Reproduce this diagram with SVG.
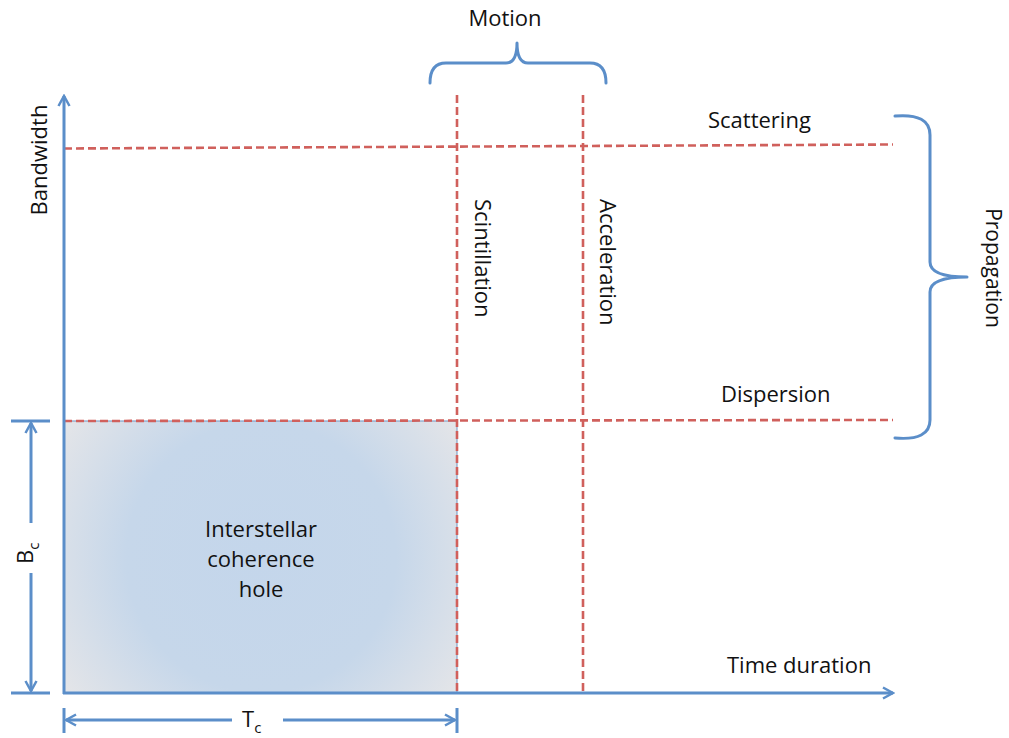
<svg xmlns="http://www.w3.org/2000/svg" width="1009" height="738" viewBox="0 0 1009 738">
<style>
  .t { font-family: "Open Sans", "Liberation Sans", sans-serif; font-size: 22px; fill: #111; }
  .ax { stroke: #5b8ec9; stroke-width: 3; fill: none; }
  .br { stroke: #5b8ec9; stroke-width: 3; fill: none; stroke-linecap: round; stroke-linejoin: round; }
  .rd { stroke: #d0605c; stroke-width: 2.6; stroke-dasharray: 8 4; fill: none; }
</style>
<defs>
  <marker id="arr" viewBox="0 0 14 14" refX="12" refY="7" markerWidth="14" markerHeight="14" markerUnits="userSpaceOnUse" orient="auto-start-reverse">
    <path d="M2,1.5 L12,7 L2,12.5" fill="none" stroke="#5b8ec9" stroke-width="2.5" stroke-linejoin="miter"/>
  </marker>
  <radialGradient id="hole" gradientUnits="userSpaceOnUse" cx="261" cy="557" r="245">
    <stop offset="0" stop-color="#c4d6eb"/>
    <stop offset="0.55" stop-color="#c6d7ea"/>
    <stop offset="1" stop-color="#e6e6e8"/>
  </radialGradient>
</defs>
<rect width="1009" height="738" fill="#ffffff"/>

<g id="coherence-hole">
  <rect x="64" y="421" width="393" height="272" fill="url(#hole)" stroke="#7094c0" stroke-width="1"/>
  <text class="t" text-anchor="middle" x="261" y="537">Interstellar</text>
  <text class="t" text-anchor="middle" x="261" y="567">coherence</text>
  <text class="t" text-anchor="middle" x="261" y="597">hole</text>
</g>

<g id="connectors">
  <line class="rd" x1="64" y1="148.5" x2="893" y2="144.5"/>
  <line class="rd" x1="64" y1="421" x2="893" y2="420"/>
  <line class="rd" x1="457" y1="95" x2="457" y2="693"/>
  <line class="rd" x1="583" y1="95" x2="583" y2="693"/>
</g>

<g id="axes">
  <line class="ax" x1="64" y1="694" x2="64" y2="96" marker-end="url(#arr)"/>
  <line class="ax" x1="63" y1="693" x2="893" y2="693" marker-end="url(#arr)"/>
  <text class="t" transform="translate(47,160) rotate(-90)" text-anchor="middle">Bandwidth</text>
  <text class="t" x="727" y="673">Time duration</text>
</g>

<g id="bc-dimension">
  <line class="ax" x1="11" y1="421" x2="50" y2="421"/>
  <line class="ax" x1="11" y1="693" x2="50" y2="693"/>
  <line class="ax" x1="31" y1="523" x2="31" y2="423" marker-end="url(#arr)"/>
  <line class="ax" x1="31" y1="573" x2="31" y2="691" marker-end="url(#arr)"/>
  <text class="t" transform="translate(33,564) rotate(-90)">B<tspan font-size="15" dy="6">c</tspan></text>
</g>

<g id="tc-dimension">
  <line class="ax" x1="64" y1="708" x2="64" y2="733"/>
  <line class="ax" x1="457" y1="708" x2="457" y2="733"/>
  <line class="ax" x1="232" y1="720" x2="66" y2="720" marker-end="url(#arr)"/>
  <line class="ax" x1="283" y1="720" x2="455" y2="720" marker-end="url(#arr)"/>
  <text class="t" x="242" y="727">T<tspan font-size="15" dy="6">c</tspan></text>
</g>

<g id="motion">
  <path class="br" d="M430,83 Q430,63 446,63 L506,63 Q517,63 517,43 Q517,63 528,63 L590,63 Q606,63 606,83"/>
  <text class="t" text-anchor="middle" x="505" y="26">Motion</text>
</g>

<g id="propagation">
  <path class="br" d="M895,116 Q930,113 930,135 L930,262 Q930,277 967,277 Q930,277 930,292 L930,420 Q930,441 895,438"/>
  <text class="t" font-size="21" transform="translate(986,268) rotate(90)" text-anchor="middle" style="font-size:21px">Propagation</text>
</g>

<g id="scattering"><text class="t" x="708" y="128">Scattering</text></g>
<g id="dispersion"><text class="t" x="721" y="402">Dispersion</text></g>
<g id="scintillation"><text class="t" transform="translate(475,199) rotate(90)">Scintillation</text></g>
<g id="acceleration"><text class="t" transform="translate(600,199) rotate(90)">Acceleration</text></g>
</svg>
